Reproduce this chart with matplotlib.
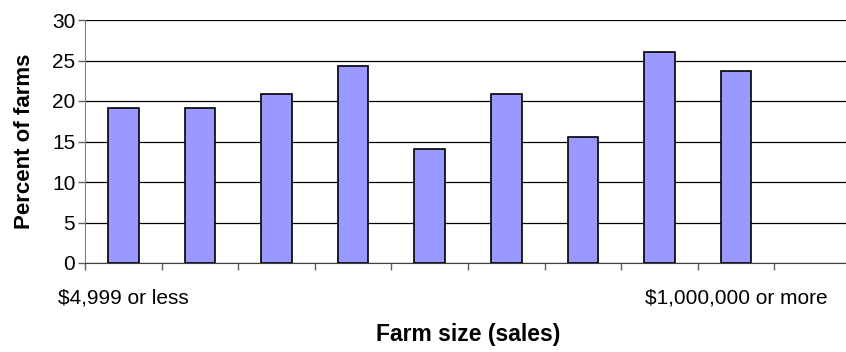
import matplotlib
matplotlib.use("Agg")
import matplotlib.pyplot as plt
import numpy as np

categories = ["$4,999 or less", "", "", "", "", "", "", "", "$1,000,000 or more", ""]
values = [19.1, 19.1, 20.9, 24.3, 14.1, 20.9, 15.6, 26.0, 23.7, None]
yticks = [0, 5, 10, 15, 20, 25, 30]

plt.rcParams['font.family'] = ['Liberation Sans', 'DejaVu Sans']

W, H = 846, 352
fig = plt.figure(figsize=(W / 100, H / 100), dpi=100)
left, right, top, bottom = 85, 851, 20, 263
ax = fig.add_axes([left / W, (H - bottom) / H, (right - left) / W, (bottom - top) / H])

x = np.arange(len(categories))
vals = [v if v is not None else 0 for v in values]
mask = [v is not None for v in values]
ax.bar(x[mask], np.array(vals)[mask], width=0.4, color="#9999FF",
       edgecolor="black", linewidth=1.2, zorder=3)

ax.set_xlim(-0.5, len(categories) - 0.5)
ax.set_ylim(0, 30)
ax.set_yticks(yticks)
ax.set_yticklabels([str(t) for t in yticks], fontsize=15)
ax.yaxis.grid(True, color="black", linewidth=0.9, zorder=0)
ax.set_axisbelow(True)

ax.set_xticks(np.arange(-0.5, len(categories) - 0.5, 1.0))
ax.set_xticklabels([])
ax.set_xticks(x, minor=True)
ax.set_xticklabels(categories, minor=True, fontsize=15)
ax.tick_params(axis='x', which='minor', length=0, pad=18)
ax.tick_params(axis='x', which='major', length=5, color="#606060", width=1)
ax.tick_params(axis='y', length=5, color="#606060", width=1, pad=2)

for s in ['top', 'right']:
    ax.spines[s].set_visible(False)
ax.spines['left'].set_color("#808080")
ax.spines['bottom'].set_color("#404040")

ax.set_ylabel("Percent of farms", fontsize=16, fontweight='bold', labelpad=12)
fig.text(468 / W, 1 - 335 / H, "Farm size (sales)", fontsize=16.5, fontweight='bold',
         ha='center', va='center')

fig.savefig("out.png", dpi=100)
